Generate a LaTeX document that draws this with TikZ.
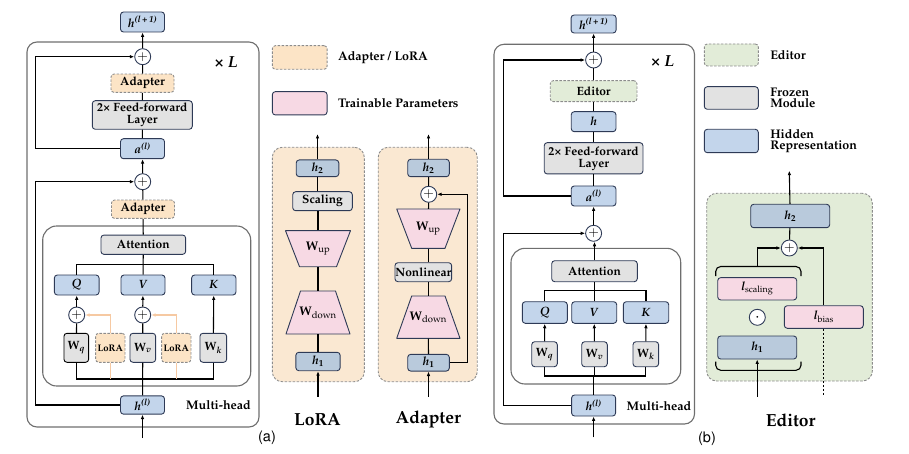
\documentclass[tikz,border=0pt]{standalone}
\usepackage[T1]{fontenc}
\usepackage{mathpazo}
\usepackage{amsmath}
\usepackage{tikz}
\usetikzlibrary{shapes.geometric, arrows.meta, positioning}
\definecolor{navyline}{HTML}{2E3A56}
\definecolor{hiddenblue}{HTML}{C3D5EB}
\definecolor{paleblue}{HTML}{B9CADC}
\definecolor{frozengrey}{HTML}{E2E2E2}
\definecolor{adaptorange}{HTML}{FCE4C6}
\definecolor{panelorange}{HTML}{FAE8D2}
\definecolor{trainpink}{HTML}{F7D9E4}
\definecolor{editorgreen}{HTML}{E2ECD8}
\definecolor{dashgrey}{HTML}{8C8C8C}
\definecolor{framegrey}{HTML}{6E6E6E}
\definecolor{loraline}{HTML}{F6C9A2}
\newcommand{\bvar}[1]{\textbf{\textit{#1}}}

\tikzset{
	sz/.style 2 args={minimum width=#1pt, minimum height=#2pt},
	box/.style={draw=navyline, line width=0.9pt, rounded corners=3pt, inner sep=0pt,
		align=center, font=\fontsize{12}{12}\selectfont\bfseries},
	hid/.style={box, fill=hiddenblue},
	subhid/.style={box, fill=paleblue},
	frozen/.style={box, fill=frozengrey},
	trainbox/.style={box, fill=trainpink},
	adaptbox/.style={box, draw=dashgrey, dash pattern=on 2.5pt off 1.5pt, fill=adaptorange},
	editbox/.style={box, draw=dashgrey, dash pattern=on 2.5pt off 1.5pt, fill=editorgreen},
	plusnode/.style={circle, draw=navyline, line width=0.9pt, fill=white, minimum size=16pt,
		inner sep=0pt, font=\fontsize{13}{13}\selectfont},
	weightshape/.style={draw=navyline, line width=0.9pt, fill=trainpink, line join=round},
	weight/.style={inner sep=0pt, font=\fontsize{12.5}{13}\selectfont},
	frame/.style={draw=framegrey, line width=1.1pt, rounded corners=10pt},
	panel/.style={draw=dashgrey, line width=0.9pt, dash pattern=on 2.5pt off 1.5pt, rounded corners=10pt},
	legtext/.style={anchor=west, align=left, font=\fontsize{12.5}{11.5}\selectfont\bfseries},
	bigtext/.style={font=\fontsize{17.5}{18}\selectfont\bfseries},
	cornertext/.style={font=\fontsize{16}{16}\selectfont\bfseries},
	captext/.style={font=\fontsize{14.5}{15}\fontfamily{phv}\selectfont},
	conn/.style={line width=1.1pt, black},
	arr/.style={conn, -{Latex[length=4.5pt, width=3.6pt]}},
	loraconn/.style={line width=1.1pt, loraline},
}

\begin{document}
\begin{tikzpicture}[x=1pt, y=-1pt]
\useasboundingbox (0,0) rectangle (909,454);

% ---------- (a) adapter / LoRA in the transformer block ----------
\node[frame, sz={232}{385}] (outerA) at (143,234.5) {};
\node[frame, rounded corners=14pt, sz={208}{160}] (innerA) at (146.7,306) {};

\node[hid, sz={44}{20}] (houtA) at (142.5,22) {\bvar{h}\textsuperscript{\bvar{(l\,+\,1)}}};
\node[plusnode] (plusA1) at (142.7,56.7) {$+$};
\node[cornertext] (xLA) at (226,62) {\texttimes{} \bvar{L}};
\node[adaptbox, sz={63}{18.3}] (adtopA) at (142.5,83.2) {Adapter};
\node[frozen, sz={100}{28.6}] (ffnA) at (142.3,115) {2\texttimes{} Feed-forward\\Layer};
\node[hid, sz={44}{20}] (aA) at (142.5,148.7) {\bvar{a}\textsuperscript{\bvar{(l)}}};
\node[plusnode] (plusA2) at (142.7,181.7) {$+$};
\node[adaptbox, sz={63}{18.3}] (adbotA) at (143,209.2) {Adapter};
\node[frozen, sz={84.7}{19.3}] (attA) at (143.3,244.7) {Attention};
\node[hid, sz={44.7}{20}] (qA) at (76.7,285) {\bvar{Q}};
\node[hid, sz={44}{20}] (vA) at (143,285) {\bvar{V}};
\node[hid, sz={44.3}{20}] (kA) at (213.8,285) {\bvar{K}};
\node[plusnode] (pqA) at (76.7,315) {$+$};
\node[plusnode] (pvA) at (142.7,315) {$+$};
\node[frozen, draw=black, sz={24.7}{29}] (wqA) at (76.3,347.8) {W$_{\bvar{q}}$};
\node[adaptbox, sz={29.3}{29}, font=\fontsize{9.5}{9.5}\selectfont\bfseries] (loraA1) at (110.3,347.8) {LoRA};
\node[frozen, sz={25.7}{29}] (wvA) at (142.8,347.8) {W$_{\bvar{v}}$};
\node[adaptbox, sz={29.3}{29}, font=\fontsize{9.5}{9.5}\selectfont\bfseries] (loraA2) at (176.3,347.8) {LoRA};
\node[frozen, sz={26.7}{29}] (wkA) at (213.3,347.8) {W$_{\bvar{k}}$};
\node[hid, sz={44}{18.3}] (hinA) at (142.5,405) {\bvar{h}\textsuperscript{\bvar{(l)}}};
\node[font=\fontsize{12.5}{12}\selectfont\bfseries] (mhA) at (218.5,405) {Multi-head};
\node[captext] (capA) at (267,438) {(a)};

\coordinate (inA) at (142.5,438);
\coordinate (busA) at (142.7,379);
\coordinate (topbusA) at (143,264.3);
\coordinate (skipA1) at (35.7,56.7);
\coordinate (skipA2) at (35.7,181.7);

\draw[arr] (inA) -- (hinA);
\draw[conn] (hinA) -- (wvA);
\draw[conn] (wqA.south) |- (busA) -| (wkA.south);
\draw[loraconn] (loraA1.south) -- (loraA1.south |- busA);
\draw[loraconn] (loraA2.south) -- (loraA2.south |- busA);
\draw[loraconn, -{Latex[length=4.5pt, width=3.6pt]}] (loraA1.north) |- (pqA.east);
\draw[loraconn, -{Latex[length=4.5pt, width=3.6pt]}] (loraA2.north) |- (pvA.east);
\draw[conn] (wqA) -- (pqA);
\draw[conn] (wvA) -- (pvA);
\draw[arr] (pqA) -- (qA);
\draw[arr] (pvA) -- (vA);
\draw[arr] (wkA) -- (kA);
\draw[conn] (qA.north) |- (topbusA) -| (kA.north);
\draw[conn] (vA) -- (attA);
\draw[conn] (attA) -- (adbotA);
\draw[conn] (adbotA) -- (plusA2);
\draw[arr] (plusA2) -- (aA);
\draw[conn] (aA) -- (ffnA);
\draw[conn] (ffnA) -- (adtopA);
\draw[conn] (adtopA) -- (plusA1);
\draw[arr] (plusA1) -- (houtA);
\draw[arr] (aA.west) -| (skipA1) -- (plusA1.west);
\draw[arr] (hinA.west) -| (skipA2) -- (plusA2.west);

% ---------- legend and the two modules ----------
\node[adaptbox, sz={54.7}{23.6}] (legAd) at (299.7,57.5) {};
\node[legtext, right=7pt of legAd] (legAdT) {Adapter / LoRA};
\node[trainbox, sz={54.7}{23.3}] (legTr) at (299.7,103.3) {};
\node[legtext, right=7pt of legTr] (legTrT) {Trainable Parameters};

\node[panel, fill=panelorange, sz={92}{234.4}] (loraP) at (318.3,264.5) {};
\draw[weightshape] (285.5,230.7) -- (350.5,230.7) -- (336.5,266.7) -- (299.5,266.7) -- cycle;
\draw[weightshape] (300.5,291) -- (335.5,291) -- (350,334) -- (286,334) -- cycle;
\node[subhid, sz={42.6}{16.7}] (lh2) at (317.5,168.3) {\bvar{h}$_{\textbf{2}}$};
\node[frozen, sz={59.6}{19}] (scal) at (322.5,201.2) {Scaling};
\node[weight, sz={65}{36}] (lwup) at (318,248.7) {\textbf{W}$_{\mathrm{up}}$};
\node[weight, sz={64}{43}] (lwdn) at (318,312.5) {\textbf{W}$_{\mathrm{down}}$};
\node[subhid, sz={44.3}{18.4}] (lh1) at (318,361.5) {\bvar{h}$_{\textbf{1}}$};
\node[bigtext] (loraT) at (317.5,419.5) {LoRA};
\coordinate (lin) at (318,396.7);
\coordinate (lout) at (317.5,134);
\draw[arr] (lin) -- (lh1);
\draw[conn] (lh1) -- (lwdn);
\draw[conn] (lwdn) -- (lwup);
\draw[conn] (lwup.north) -- (lwup.north |- scal.south);
\draw[conn] (lh2.south |- scal.north) -- (lh2.south);
\draw[arr] (lh2) -- (lout);

\node[panel, fill=panelorange, sz={99}{234.4}] (adP) at (427.7,264.5) {};
\draw[weightshape] (396.7,209) -- (460,209) -- (445,248.3) -- (411.7,248.3) -- cycle;
\draw[weightshape] (411.7,296) -- (445,296) -- (460,338.3) -- (396.7,338.3) -- cycle;
\node[subhid, sz={41.6}{17.4}] (ah2) at (428.5,168) {\bvar{h}$_{\textbf{2}}$};
\node[plusnode] (aplus) at (428.7,194.3) {$+$};
\node[weight, sz={63.3}{39.3}] (awup) at (428.3,228.7) {\textbf{W}$_{\mathrm{up}}$};
\node[frozen, sz={56.7}{19}] (anl) at (423.3,272.2) {Nonlinear};
\node[weight, sz={63.3}{42.3}] (awdn) at (428.3,317.2) {\textbf{W}$_{\mathrm{down}}$};
\node[subhid, sz={41.6}{16.7}] (ah1) at (428.5,362.7) {\bvar{h}$_{\textbf{1}}$};
\node[bigtext] (adT) at (428.3,419.5) {Adapter};
\coordinate (ain) at (428.5,396.7);
\coordinate (aout) at (428.5,134);
\coordinate (aloop) at (467.3,194.3);
\draw[arr] (ain) -- (ah1);
\draw[conn] (ah1) -- (awdn);
\draw[conn] (awdn.north) -- (awdn.north |- anl.south);
\draw[conn] (awup.south |- anl.north) -- (awup.south);
\draw[conn] (awup) -- (aplus);
\draw[conn] (aplus) -- (ah2);
\draw[arr] (ah2) -- (aout);
\draw[arr] (ah1.east) -| (aloop) -- (aplus.east);

% ---------- (b) editor in the transformer block ----------
\node[frame, sz={200.5}{379.7}] (outerB) at (594.25,234.15) {};
\node[frame, rounded corners=14pt, sz={169.7}{135.7}] (innerB) at (595.85,316.15) {};

\node[hid, sz={45}{18}] (houtB) at (593.6,24) {\bvar{h}\textsuperscript{\bvar{(l\,+\,1)}}};
\node[plusnode] (plusB1) at (593.6,60) {$+$};
\node[cornertext] (xLB) at (662.5,61.7) {\texttimes{} \bvar{L}};
\node[editbox, sz={86.7}{21}] (edB) at (593.6,91.2) {Editor};
\node[hid, sz={44.7}{20}] (hB) at (593.6,121.7) {\bvar{h}};
\node[frozen, sz={98.7}{31.3}] (ffnB) at (593.6,158.3) {2\texttimes{} Feed-forward\\Layer};
\node[hid, sz={44.7}{20}] (aB) at (593.6,196) {\bvar{a}\textsuperscript{\bvar{(l)}}};
\node[plusnode] (plusB2) at (593.6,233.3) {$+$};
\node[frozen, sz={85.6}{21}] (attB) at (594.5,271.2) {Attention};
\node[hid, sz={45}{21.6}] (qB) at (544.8,312.5) {\bvar{Q}};
\node[hid, sz={45}{21.6}] (vB) at (594.2,312.5) {\bvar{V}};
\node[hid, sz={45.4}{21.6}] (kB) at (646,312.5) {\bvar{K}};
\node[frozen, sz={25.6}{25}] (wqB) at (544.5,354.2) {W$_{\bvar{q}}$};
\node[frozen, sz={25.6}{25}] (wvB) at (594.5,354.2) {W$_{\bvar{v}}$};
\node[frozen, sz={25.6}{25}] (wkB) at (645.8,354.2) {W$_{\bvar{k}}$};
\node[hid, sz={44}{21}] (hinB) at (593.6,405.5) {\bvar{h}\textsuperscript{\bvar{(l)}}};
\node[font=\fontsize{12.5}{12}\selectfont\bfseries] (mhB) at (659,405.7) {Multi-head};
\node[captext] (capB) at (707,439) {(b)};

\coordinate (inB) at (593.6,437.3);
\coordinate (busB) at (594.5,376);
\coordinate (topbusB) at (594.5,290.7);
\coordinate (skipB1) at (503.6,60);
\coordinate (skipB2) at (503.6,233.3);

\draw[arr] (inB) -- (hinB);
\draw[conn] (hinB.north) -- (hinB.north |- busB);
\draw[conn] (wqB.south) |- (busB) -| (wkB.south);
\draw[conn] (wvB.south) -- (wvB.south |- busB);
\draw[arr] (wqB) -- (qB);
\draw[arr] (wvB) -- (vB);
\draw[arr] (wkB) -- (kB);
\draw[conn] (qB.north) |- (topbusB) -| (kB.north);
\draw[conn] (vB.north) -- (vB.north |- attB.south);
\draw[arr] (attB.north) -- (attB.north |- plusB2.south);
\draw[arr] (plusB2) -- (aB);
\draw[conn] (aB) -- (ffnB);
\draw[conn] (ffnB) -- (hB);
\draw[conn] (hB) -- (edB);
\draw[conn] (edB) -- (plusB1);
\draw[arr] (plusB1) -- (houtB);
\draw[arr] (aB.west) -| (skipB1) -- (plusB1.west);
\draw[arr] (hinB.west) -| (skipB2) -- (plusB2.west);

% ---------- editor legend and module ----------
\node[editbox, sz={54}{22}] (legEd) at (731.3,55) {};
\node[legtext, right=8pt of legEd] (legEdT) {Editor};
\node[frozen, sz={54}{22.6}] (legFr) at (731.3,98) {};
\node[legtext, right=8pt of legFr] (legFrT) {Frozen\\Module};
\node[hid, sz={54}{23.4}] (legHi) at (731.3,141) {};
\node[legtext, right=8pt of legHi] (legHiT) {Hidden\\Representation};

\node[panel, fill=editorgreen, sz={165.6}{187.7}] (edP) at (789.5,287.15) {};
\node[subhid, sz={79}{23.4}] (eh2) at (790.2,216) {\bvar{h}$_{\textbf{2}}$};
\node[plusnode] (eplus) at (789.3,248) {$+$};
\node[trainbox, sz={79}{22.3}] (lsc) at (757.2,288.8) {\bvar{l}$_{\mathrm{scaling}}$};
\node[plusnode, font=\fontsize{16}{16}\selectfont\bfseries] (edot) at (757.3,317.3) {$\cdot$};
\node[trainbox, sz={79}{22.6}] (lbias) at (823.8,317) {\bvar{l}$_{\mathrm{bias}}$};
\node[subhid, sz={79}{23}] (eh1) at (757.2,347.5) {\bvar{h}$_{\textbf{1}}$};
\node[bigtext] (edT) at (790.7,420) {Editor};

\coordinate (ein) at (757.2,396.7);
\coordinate (eout) at (789.3,170.7);
\coordinate (bracetop) at (757.2,266.5);
\coordinate (biasend) at (823.8,396.7);
\draw[conn, rounded corners=5pt] (715.7,276) -- (715.7,266.5) -- (801,266.5) -- (801,276);
\draw[conn, rounded corners=5pt] (715.7,361.7) -- (715.7,370.3) -- (801,370.3) -- (801,361.7);
\draw[arr] (ein) -- (eh1);
\draw[arr] (bracetop) |- (eplus.west);
\draw[arr] (lbias.north) |- (eplus.east);
\draw[conn, dash pattern=on 2.5pt off 1.5pt] (lbias.south) -- (biasend);
\draw[conn] (eplus) -- (eh2);
\draw[arr] (eh2) -- (eout);
\end{tikzpicture}
\end{document}
